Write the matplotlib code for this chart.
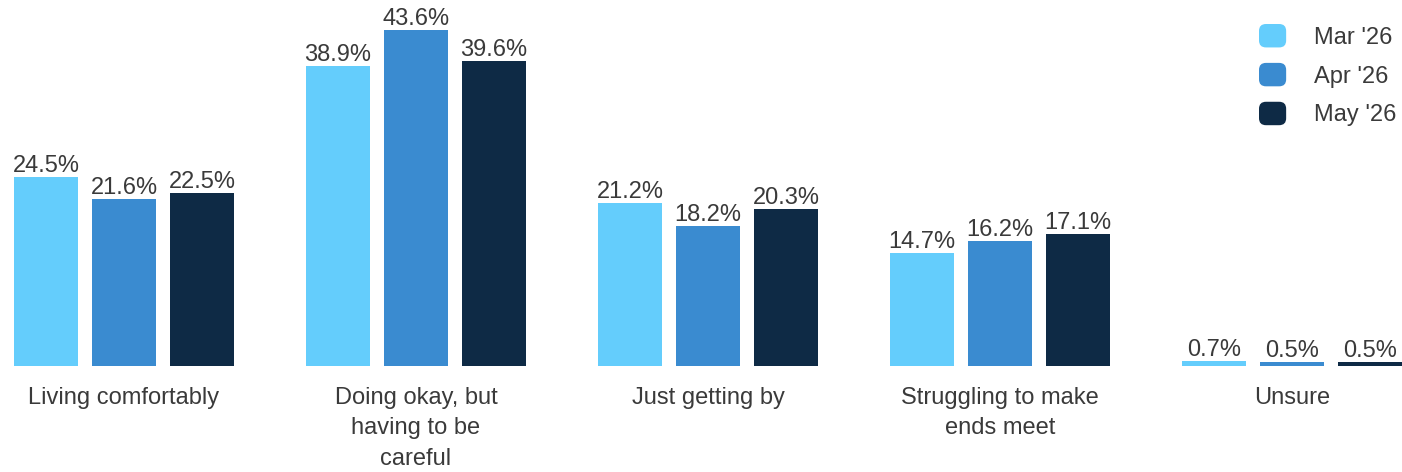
import numpy as np
import matplotlib.pyplot as plt
from matplotlib.patches import FancyBboxPatch, Patch
from matplotlib.legend_handler import HandlerPatch

plt.rcParams['font.family'] = ['Liberation Sans', 'DejaVu Sans']

categories = ['Living comfortably', 'Doing okay, but\nhaving to be\ncareful',
              'Just getting by', 'Struggling to make\nends meet', 'Unsure']
months = ["Mar '26", "Apr '26", "May '26"]
mar = [24.5, 38.9, 21.2, 14.7, 0.7]
apr = [21.6, 43.6, 18.2, 16.2, 0.5]
may = [22.5, 39.6, 20.3, 17.1, 0.5]
colors = ['#64CDFC', '#3A8BD0', '#0E2A45']
text_color = '#3a3a3a'


class RoundSquare(HandlerPatch):
    def create_artists(self, legend, orig_handle, xdescent, ydescent,
                       width, height, fontsize, trans):
        p = FancyBboxPatch((-xdescent + 2, -ydescent + 2), width - 4, height - 4,
                           boxstyle='round,pad=2,rounding_size=5',
                           facecolor=orig_handle.get_facecolor(),
                           edgecolor='none', transform=trans)
        return [p]


fig = plt.figure(figsize=(14.02, 4.72), dpi=100)
ax = fig.add_axes([14 / 1402, 106 / 472, 1388 / 1402, 355 / 472])

x = np.arange(len(categories))
w = 64 / 292
step = 78 / 292
for i, (vals, c) in enumerate(zip([mar, apr, may], colors)):
    bars = ax.bar(x + (i - 1) * step, vals, width=w, color=c, label=months[i])
    for b, v in zip(bars, vals):
        ax.annotate(f'{v}%', (b.get_x() + b.get_width() / 2, v),
                    xytext=(0, 0), textcoords='offset points',
                    ha='center', va='bottom', fontsize=17, color=text_color)

ax.set_xlim(-110 / 292, 4 + 110 / 292)
ax.set_ylim(0, 355 / 7.71)
ax.set_xticks(x)
ax.set_xticklabels(categories, fontsize=17, color=text_color, linespacing=1.5, va='top')
ax.tick_params(axis='x', length=0, pad=15)
ax.set_yticks([])
for s in ax.spines.values():
    s.set_visible(False)

handles = [Patch(facecolor=c) for c in colors]
leg = fig.legend(handles, months, loc='upper left',
                 bbox_to_anchor=(1259 / 1402, 1 - 24 / 472),
                 fontsize=17, frameon=False, borderpad=0, borderaxespad=0,
                 handlelength=1.15, handleheight=1.15, handletextpad=1.2,
                 labelspacing=0.6,
                 handler_map={Patch: RoundSquare()})
for t in leg.get_texts():
    t.set_color(text_color)

fig.savefig('out.png', dpi=100)
